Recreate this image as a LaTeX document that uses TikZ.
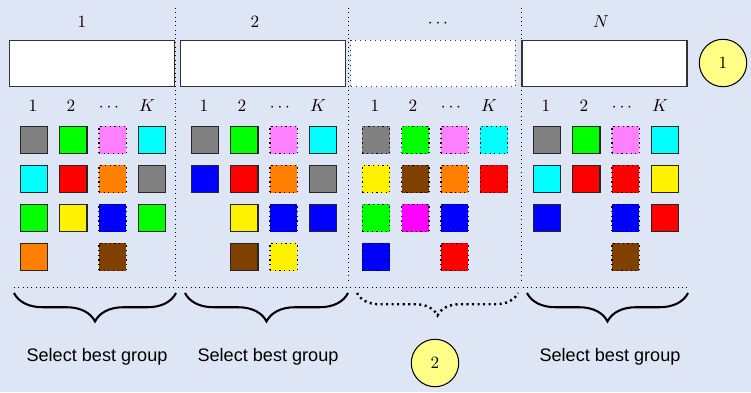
\documentclass[tikz,border=0pt]{standalone}
\usepackage{fontspec}
\setsansfont{Liberation Sans}
\usepackage{tikz}
\usetikzlibrary{positioning}
\usetikzlibrary{decorations.pathreplacing}
\usepackage{xcolor}

\definecolor{bgblue}{RGB}{222,229,245}
\definecolor{softpink}{RGB}{255,128,255}
\definecolor{darkbrown}{RGB}{128,64,0}
\definecolor{markyellow}{RGB}{255,255,136}
\definecolor{skycyan}{RGB}{0,255,255}
\definecolor{brightpink}{RGB}{255,0,255}

\begin{document}
\begin{tikzpicture}[x=0.58pt, y=-0.58pt,
  cell/.style={minimum size=15.8pt, inner sep=0pt},
  keptcell/.style={cell, draw=black!85, line width=0.9pt},
  dropcell/.style={cell, draw=black, dotted, line width=0.7pt},
  groupbox/.style={draw=black!80, line width=0.9pt, fill=white, minimum width=95.5pt, minimum height=26.8pt, inner sep=0pt},
  stepmark/.style={circle, draw=black, line width=0.6pt, fill=markyellow, minimum size=27.5pt, inner sep=0pt},
  sep/.style={dotted, line width=0.5pt},
  choose/.style={decorate, decoration={brace, mirror, amplitude=16.5pt}, line width=1.2pt},
  pick/.style={font=\sffamily\fontsize{10.5}{12}\selectfont}]

\fill[bgblue] (0,0) rectangle (751,392);

% separators
\foreach \x in {175,348,521}
  \draw[sep] (\x,8) -- (\x,283);
\draw[sep] (14,287) -- (688,287);

% groups on top
\node[groupbox] (box1) at (92,63.5) {};
\node[groupbox] (box2) at (263,63.5) {};
\node[groupbox, dotted, line width=0.6pt] (box3) at (433,63.5) {};
\node[groupbox] (box4) at (604.5,63.5) {};

\node[anchor=base] (top1) at (82,27.5) {$1$};
\node[anchor=base] (top2) at (255,27.5) {$2$};
\node[anchor=base] (top3) at (438,27.5) {$\cdots$};
\node[anchor=base] (topN) at (601,27.5) {$N$};

\node[stepmark] (mark1) at (723,63) {$1$};

% group 1
\begin{scope}[shift={(9,0)}]
\foreach \c/\lab in {1/1, 2/2, 3/\cdots, 4/K}
  \node[anchor=base] (colA-\c) at ({24+38*(\c-1)},111) {$\lab$};
\foreach \c/\r/\col in {1/1/gray, 2/1/green, 4/1/skycyan, 1/2/skycyan, 2/2/red, 4/2/gray,
                        1/3/green, 2/3/yellow, 4/3/green, 1/4/orange}
  \node[keptcell, fill=\col] (a-\c-\r) at ({25+39.3*(\c-1)},{140+39*(\r-1)}) {};
\foreach \c/\r/\col in {3/1/softpink, 3/2/orange, 3/3/blue, 3/4/darkbrown}
  \node[dropcell, fill=\col] (a-\c-\r) at ({25+39.3*(\c-1)},{140+39*(\r-1)}) {};
\end{scope}

% group 2
\begin{scope}[shift={(180,0)}]
\foreach \c/\lab in {1/1, 2/2, 3/\cdots, 4/K}
  \node[anchor=base] (colB-\c) at ({24+38*(\c-1)},111) {$\lab$};
\foreach \c/\r/\col in {1/1/gray, 2/1/green, 4/1/skycyan, 1/2/blue, 2/2/red, 4/2/gray,
                        2/3/yellow, 4/3/blue, 2/4/darkbrown}
  \node[keptcell, fill=\col] (b-\c-\r) at ({25+39.3*(\c-1)},{140+39*(\r-1)}) {};
\foreach \c/\r/\col in {3/1/softpink, 3/2/orange, 3/3/blue, 3/4/yellow}
  \node[dropcell, fill=\col] (b-\c-\r) at ({25+39.3*(\c-1)},{140+39*(\r-1)}) {};
\end{scope}

% group ...
\begin{scope}[shift={(351,0)}]
\foreach \c/\lab in {1/1, 2/2, 3/\cdots, 4/K}
  \node[anchor=base] (colC-\c) at ({24+38*(\c-1)},111) {$\lab$};
\foreach \c/\r/\col in {1/1/gray, 2/1/green, 3/1/softpink, 4/1/skycyan,
                        1/2/yellow, 2/2/darkbrown, 3/2/orange, 4/2/red,
                        1/3/green, 2/3/brightpink, 3/3/blue, 1/4/blue, 3/4/red}
  \node[dropcell, fill=\col] (c-\c-\r) at ({25+39.3*(\c-1)},{140+39*(\r-1)}) {};
\end{scope}

% group N
\begin{scope}[shift={(522,0)}]
\foreach \c/\lab in {1/1, 2/2, 3/\cdots, 4/K}
  \node[anchor=base] (colD-\c) at ({24+38*(\c-1)},111) {$\lab$};
\foreach \c/\r/\col in {1/1/gray, 2/1/green, 4/1/skycyan, 1/2/skycyan, 2/2/red, 4/2/yellow,
                        1/3/blue, 4/3/red}
  \node[keptcell, fill=\col] (d-\c-\r) at ({25+39.3*(\c-1)},{140+39*(\r-1)}) {};
\foreach \c/\r/\col in {3/1/softpink, 3/2/red, 3/3/blue, 3/4/darkbrown}
  \node[dropcell, fill=\col] (d-\c-\r) at ({25+39.3*(\c-1)},{140+39*(\r-1)}) {};
\end{scope}

% braces
\draw[choose] (14,293) -- (176,293);
\draw[choose] (185,293) -- (348,293);
\draw[choose, dotted, line width=1.4pt, decoration={amplitude=13pt}] (357,293) -- (518,293);
\draw[choose] (527,293) -- (688,293);

\node[pick] (sel1) at (97,357) {Select best group};
\node[pick] (sel2) at (268,357) {Select best group};
\node[pick] (sel4) at (610,357) {Select best group};

\node[stepmark] (mark2) at (435,363) {$2$};

\end{tikzpicture}
\end{document}
